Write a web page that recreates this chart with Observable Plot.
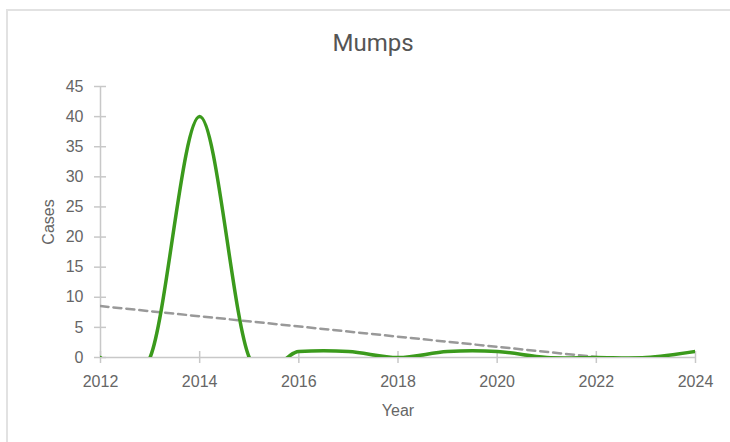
<!DOCTYPE html>
<html>
<head>
<meta charset="utf-8">
<script src="https://cdn.jsdelivr.net/npm/d3@7"></script>
<script src="https://cdn.jsdelivr.net/npm/@observablehq/plot@0.6"></script>
<style>
  html, body { margin: 0; padding: 0; background: #fff; }
  #wrap { position: relative; width: 730px; height: 442px; overflow: hidden; }
  #card { position: absolute; left: 6px; top: 9px; width: 800px; height: 500px;
          border-left: 2px solid #e2e2e2; border-top: 2px solid #e2e2e2; box-sizing: border-box; }
  #title { position: absolute; left: 0; width: 746px; top: 31px; text-align: center;
           font-family: Roboto, "Liberation Sans", sans-serif; font-size: 24px; line-height: 24px; color: #555; }
  #chart { position: absolute; left: 0; top: 0; }
</style>
</head>
<body>
<div id="wrap">
  <div id="card"></div>
  <div id="title">Mumps</div>
  <div id="chart"></div>
</div>
<script>
const years = [2012, 2013, 2014, 2015, 2016, 2017, 2018, 2019, 2020, 2021, 2022, 2023, 2024];
const cases = [0, 0, 40, 0, 1, 1, 0, 1, 1, 0, 0, 0, 1];
const xTicks = [2012, 2014, 2016, 2018, 2020, 2022, 2024];
const yTicks = [0, 5, 10, 15, 20, 25, 30, 35, 40, 45];

const data = years.map((year, i) => ({year, cases: cases[i]}));
const axisColor = "#c8c8c8";

const chart = Plot.plot({
  width: 730,
  height: 442,
  marginLeft: 100,
  marginRight: 35,
  marginTop: 86,
  marginBottom: 85,
  style: {fontSize: "16px", fontFamily: "'Liberation Sans', Arial, sans-serif", color: "#666", background: "transparent"},
  x: {domain: [2012, 2024]},
  y: {domain: [0, 45]},
  marks: [
    Plot.axisX({ticks: xTicks, tickSize: 12, dy: -6, text: null, stroke: axisColor, strokeWidth: 1.5, strokeOpacity: 1, label: null}),
    Plot.axisY({ticks: yTicks, tickSize: 12, dx: 6, text: null, stroke: axisColor, strokeWidth: 1.5, strokeOpacity: 1, label: null}),
    Plot.axisX({ticks: xTicks, tickSize: 0, tickPadding: 18, tickFormat: d => String(d), fill: "#666",
                label: "Year", labelAnchor: "center", labelArrow: "none", labelOffset: 58}),
    Plot.axisY({ticks: yTicks, tickSize: 0, tickPadding: 17, fill: "#666",
                label: "Cases", labelAnchor: "center", labelArrow: "none", labelOffset: 58}),
    Plot.ruleY([0], {stroke: axisColor, strokeWidth: 1.5}),
    Plot.ruleX([2012], {stroke: axisColor, strokeWidth: 1.5}),
    Plot.linearRegressionY(data, {x: "year", y: "cases", ci: 0, stroke: "#999", strokeWidth: 2.5,
                                  strokeDasharray: "8,5", clip: true}),
    Plot.line(data, {x: "year", y: "cases", curve: "cardinal", stroke: "#3b9a1c", strokeWidth: 3.5, clip: true})
  ]
});
document.getElementById("chart").appendChild(chart);
</script>
</body>
</html>
